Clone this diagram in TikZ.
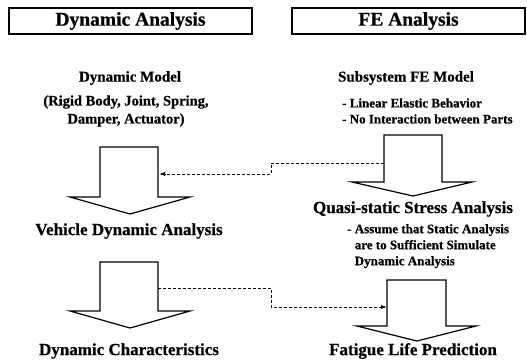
\documentclass[tikz,border=0pt]{standalone}
\usepackage{fontspec}
\setmainfont{Liberation Serif}[BoldFeatures={FakeBold=0.6}]
\usetikzlibrary{arrows.meta}
\begin{document}
\begin{tikzpicture}[x=1pt,y=-1pt,
  header/.style={draw, line width=1.1pt, minimum height=26pt, inner sep=0pt,
    font=\fontsize{19.5}{19.5}\selectfont\bfseries},
  title/.style={inner sep=0pt, font=\fontsize{15}{15}\selectfont\bfseries},
  big/.style={inner sep=0pt, font=\fontsize{17}{17}\selectfont\bfseries},
  note/.style={inner sep=0pt, align=left, font=\fontsize{13}{16}\selectfont\bfseries},
  flowarrow/.style={draw, line width=1.2pt, fill=white, line join=miter},
  link/.style={densely dashed, line width=0.8pt, -{Latex[length=6pt,width=4pt]}}]
\useasboundingbox (0,0) rectangle (527,360);

% column headers
\node[header, minimum width=243pt] (hdyn) at (130.5,21) {Dynamic Analysis};
\node[header, minimum width=233pt] (hfe) at (408.5,21) {FE Analysis};

% left column texts
\node[title] (dmodel) at (130,78) {Dynamic Model};
\node[title, align=center, font=\fontsize{14.5}{18}\selectfont\bfseries] (dparts) at (126,111)
  {(Rigid Body, Joint, Spring,\\Damper, Actuator)};
\node[big] (vda) at (129,231) {Vehicle Dynamic Analysis};
\node[big] (dchar) at (129,351) {Dynamic Characteristics};

% right column texts
\node[title] (femodel) at (406,78) {Subsystem FE Model};
\node[note, anchor=west] (feassum) at (342,111)
  {- Linear Elastic Behavior\\- No Interaction between Parts};
\node[big] (qssa) at (413,209) {Quasi-static Stress Analysis};
\node[note, anchor=north west] (qsnote) at (347,224)
  {- Assume that Static Analysis\\\hphantom{- }are to Sufficient Simulate\\\hphantom{- }Dynamic Analysis};
\node[big] (flp) at (413,351) {Fatigue Life Prediction};

% block arrows
\draw[flowarrow] (100,147) -- (158,147) -- (158,197) -- (190,197) -- (130,214)
  -- (70,197) -- (100,197) -- cycle;
\draw[flowarrow] (384,135) -- (442,135) -- (442,182) -- (472,182) -- (413,196)
  -- (352,182) -- (384,182) -- cycle;
\draw[flowarrow] (100,262) -- (158,262) -- (158,311) -- (190,311) -- (130,328)
  -- (70,311) -- (100,311) -- cycle;
\draw[flowarrow] (387,280) -- (446,280) -- (446,326) -- (476,326) -- (417,341)
  -- (357,326) -- (387,326) -- cycle;

% connector end points on the arrow shafts
\coordinate (qsOut) at (384,163);
\coordinate (vdaIn) at (159,174);
\coordinate (dcOut) at (158,288);
\coordinate (flpIn) at (387,307);

% dashed data transfers
\draw[link] (qsOut) -- (271,163) -- (271,174) -- (vdaIn);
\draw[link] (dcOut) -- (271,288) -- (271,307) -- (flpIn);
\end{tikzpicture}
\end{document}
